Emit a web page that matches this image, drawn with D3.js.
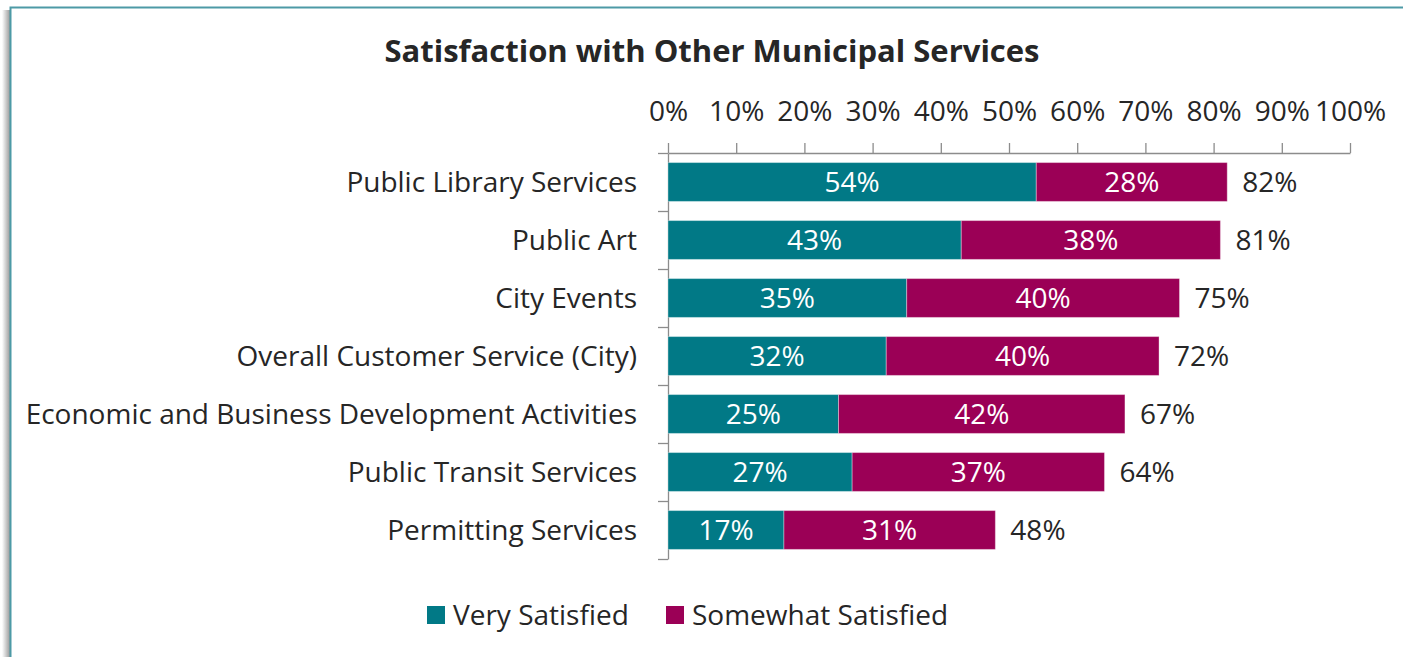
<!DOCTYPE html>
<html>
<head>
    <meta charset="utf-8">
    <title>Satisfaction with Other Municipal Services</title>
    <script src="https://cdn.jsdelivr.net/npm/d3@7"></script>
</head>
<body>
</body>
</html>

<style>
body {
    margin: 0;
    background: #fff;
    font-family: "Open Sans", sans-serif;
}
.axis path,
.axis line {
    fill: none;
    stroke: #8c8c8c;
    stroke-width: 1.3;
}
.axis text {
    font-family: "Open Sans", sans-serif;
    font-size: 28px;
    fill: #262626;
}
</style>

<script>

var categories = [
    "Public Library Services",
    "Public Art",
    "City Events",
    "Overall Customer Service (City)",
    "Economic and Business Development Activities",
    "Public Transit Services",
    "Permitting Services"
];
var verySatisfied     = [54, 43, 35, 32, 25, 27, 17];
var somewhatSatisfied = [28, 38, 40, 40, 42, 37, 31];
var seriesNames  = ["Very Satisfied", "Somewhat Satisfied"];
var seriesColors = ["#017986", "#9b0056"];
var xTicks = [0, 10, 20, 30, 40, 50, 60, 70, 80, 90, 100];

var width = 1403, height = 657;

var svg = d3.select("body").append("svg")
    .attr("width", width)
    .attr("height", height);

// frame with a soft shadow on the left
var grad = svg.append("defs").append("linearGradient")
    .attr("id", "shade");
grad.append("stop").attr("offset", "0%").attr("stop-color", "#fff");
grad.append("stop").attr("offset", "100%").attr("stop-color", "#9a9a9a");
svg.append("rect")
    .attr("x", 2).attr("y", 10)
    .attr("width", 8).attr("height", height)
    .attr("fill", "url(#shade)");
svg.append("rect")
    .attr("x", 10.5).attr("y", 7.5)
    .attr("width", width + 20).attr("height", height + 20)
    .attr("fill", "#fff")
    .attr("stroke", "#4d9aa6")
    .attr("stroke-width", 2);

svg.append("text")
    .attr("x", 712)
    .attr("y", 62)
    .attr("text-anchor", "middle")
    .style("font-size", "31px")
    .style("font-weight", "bold")
    .style("fill", "#262626")
    .text("Satisfaction with Other Municipal Services");

var x = d3.scaleLinear()
    .domain([0, 100])
    .range([668, 1350]);

var y = d3.scaleBand()
    .domain(categories)
    .range([153, 559])
    .paddingInner(0.33)
    .paddingOuter(0.165);

// index scale for the tick marks between categories
var yEdge = d3.scaleLinear()
    .domain([0, categories.length])
    .range([153, 559]);

// top axis
svg.append("g")
    .attr("class", "x axis")
    .attr("transform", "translate(0,153)")
    .call(d3.axisTop(x)
        .tickValues(xTicks)
        .tickSize(10)
        .tickPadding(22)
        .tickSizeOuter(0)
        .tickFormat(function(d) { return d + "%"; }));

// left axis: boundary ticks
svg.append("g")
    .attr("class", "y axis")
    .attr("transform", "translate(668,0)")
    .call(d3.axisLeft(yEdge)
        .tickValues(d3.range(categories.length + 1))
        .tickSize(10)
        .tickSizeOuter(0)
        .tickFormat(""));

// category labels
svg.append("g")
    .attr("class", "axis")
    .selectAll("text")
    .data(categories)
  .enter().append("text")
    .attr("x", 637)
    .attr("y", function(d) { return y(d) + y.bandwidth() / 2; })
    .attr("dy", "0.35em")
    .attr("text-anchor", "end")
    .text(function(d) { return d; });

var rows = categories.map(function(c, i) {
    return {cat: c, v: verySatisfied[i], s: somewhatSatisfied[i]};
});

var segs = [];
rows.forEach(function(r) {
    segs.push({cat: r.cat, x0: 0, x1: r.v, val: r.v, k: 0});
    segs.push({cat: r.cat, x0: r.v, x1: r.v + r.s, val: r.s, k: 1});
});

svg.selectAll(".bar")
    .data(segs)
  .enter().append("rect")
    .attr("class", "bar")
    .attr("x", function(d) { return x(d.x0); })
    .attr("y", function(d) { return y(d.cat); })
    .attr("width", function(d) { return x(d.x1) - x(d.x0); })
    .attr("height", y.bandwidth())
    .attr("fill", function(d) { return seriesColors[d.k]; })
    .attr("stroke", "#fff")
    .attr("stroke-opacity", 0.35)
    .attr("stroke-width", 1);

svg.selectAll(".inlabel")
    .data(segs)
  .enter().append("text")
    .attr("class", "inlabel")
    .attr("x", function(d) { return (x(d.x0) + x(d.x1)) / 2; })
    .attr("y", function(d) { return y(d.cat) + y.bandwidth() / 2; })
    .attr("dy", "0.35em")
    .attr("text-anchor", "middle")
    .style("font-size", "28px")
    .style("fill", "#fff")
    .text(function(d) { return d.val + "%"; });

svg.selectAll(".total")
    .data(rows)
  .enter().append("text")
    .attr("class", "total")
    .attr("x", function(d) { return x(d.v + d.s) + 15; })
    .attr("y", function(d) { return y(d.cat) + y.bandwidth() / 2; })
    .attr("dy", "0.35em")
    .style("font-size", "28px")
    .style("fill", "#262626")
    .text(function(d) { return (d.v + d.s) + "%"; });

// legend
var legend = svg.append("g")
    .attr("transform", "translate(427,615)");
var legendX = [0, 239];
seriesNames.forEach(function(name, i) {
    legend.append("rect")
        .attr("x", legendX[i])
        .attr("y", -9)
        .attr("width", 18)
        .attr("height", 18)
        .attr("fill", seriesColors[i]);
    legend.append("text")
        .attr("x", legendX[i] + 26)
        .attr("y", 0)
        .attr("dy", "0.35em")
        .style("font-size", "28px")
        .style("fill", "#262626")
        .text(name);
});

</script>
